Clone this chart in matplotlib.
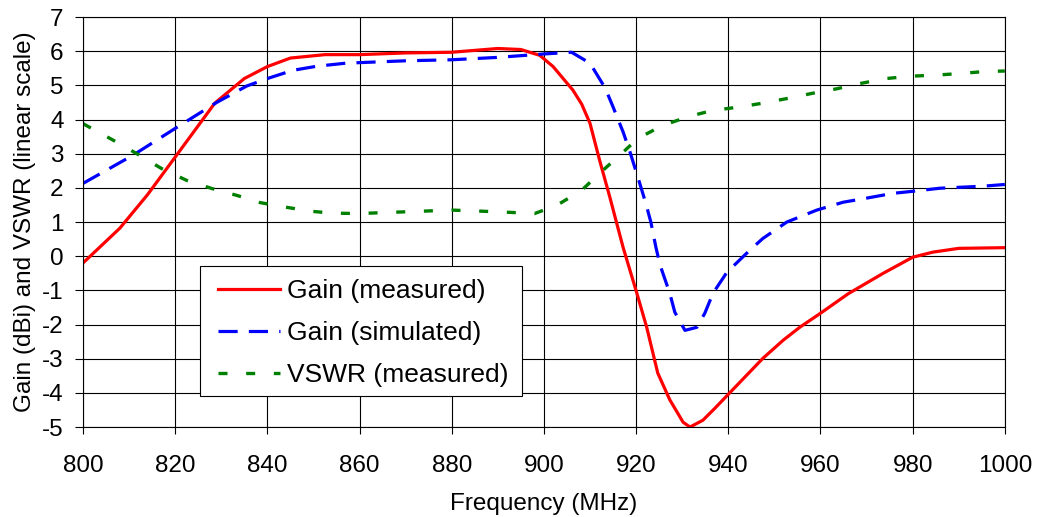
import numpy as np
import matplotlib
matplotlib.use("Agg")
import matplotlib.pyplot as plt
from matplotlib.patches import Rectangle

plt.rcParams['font.family'] = ['Liberation Sans', 'DejaVu Sans']
plt.rcParams['axes.unicode_minus'] = False

# measured gain (dBi)
gain_meas_f = [800, 808, 814, 820, 828.6, 835, 840, 845, 852.5, 860, 870, 880, 890, 895, 899.1,
               902, 906.3, 908.2, 910, 912.1, 914.3, 916, 917.2, 920.2, 922.3, 924.7, 927.3,
               930.2, 931.7, 934.5, 937.1, 940.3, 947.5, 951.9, 955.5, 960, 966, 973.6, 980,
               984.4, 990, 1000]
gain_meas = [-0.2, 0.82, 1.8, 2.9, 4.48, 5.2, 5.55, 5.8, 5.9, 5.9, 5.95, 5.97, 6.08, 6.05, 5.88,
             5.55, 4.86, 4.45, 3.89, 2.8, 1.73, 0.86, 0.25, -1.1, -2.08, -3.42, -4.2,
             -4.86, -5.0, -4.8, -4.45, -4.0, -2.99, -2.46, -2.08, -1.67, -1.1, -0.5, -0.03,
             0.12, 0.23, 0.25]

# simulated gain (dBi)
gain_sim_f = [800, 810.9, 820, 829, 835.5, 840, 845.5, 850.7, 857, 870, 880, 890, 900, 906,
              910, 913.3, 915, 917.2, 918.7, 920.8, 922.1, 923.2, 924.3, 925.2, 927.3, 928.4,
              930.6, 933.2, 934.9, 936.7, 939.7, 944.7, 947.5, 952.7, 959.2, 964.9, 970, 975.7,
              980, 985.9, 995.3, 1000]
gain_sim = [2.13, 2.96, 3.74, 4.5, 4.98, 5.2, 5.44, 5.56, 5.65, 5.72, 5.75, 5.82, 5.92, 5.97,
            5.65, 4.92, 4.37, 3.63, 3.04, 2.13, 1.55, 1.0, 0.26, -0.26, -1.08, -1.64,
            -2.17, -2.08, -1.67, -1.08, -0.47, 0.18, 0.52, 1.0, 1.35, 1.58, 1.7, 1.84,
            1.9, 1.99, 2.05, 2.1]

# measured VSWR
vswr_f = [800, 806.5, 811.7, 817, 822.5, 828, 833.4, 838.4, 843.8, 849.2, 854, 860, 870, 880,
          890, 898, 902.8, 908.2, 912.1, 916.5, 920.4, 925.8, 931.7, 936.7, 942, 947.5, 952.9,
          958.3, 963.5, 968.8, 974.2, 979.6, 985, 990.5, 996, 1000]
vswr = [3.88, 3.4, 3.0, 2.57, 2.22, 1.98, 1.78, 1.57, 1.44, 1.32, 1.26, 1.25, 1.3, 1.35,
        1.3, 1.25, 1.49, 1.93, 2.43, 2.96, 3.45, 3.83, 4.1, 4.27, 4.36, 4.48, 4.62,
        4.77, 4.9, 5.06, 5.2, 5.27, 5.3, 5.35, 5.41, 5.42]

fig = plt.figure(figsize=(10.37, 5.17), dpi=100)
ax = fig.add_axes([0.080, 0.174, 0.889, 0.793])

ax.plot(gain_meas_f, gain_meas, color='#ff0000', lw=2.3, label='Gain (measured)')
ax.plot(gain_sim_f, gain_sim, color='#0000ff', lw=2.3, linestyle=(0, (6, 3.5)),
        label='Gain (simulated)')
ax.plot(vswr_f, vswr, color='#008000', lw=2.4, linestyle=(0, (2.7, 5.6)),
        label='VSWR (measured)')

ax.set_xlim(800, 1000)
ax.set_ylim(-5, 7)
ax.set_xticks(np.arange(800, 1001, 20))
ax.set_yticks(np.arange(-5, 8, 1))
ax.grid(True, color='black', lw=0.8)
ax.set_axisbelow(True)
for s in ax.spines.values():
    s.set_linewidth(0.8)
ax.tick_params(direction='out', width=0.8, labelsize=17.5)
ax.tick_params(axis='x', length=5, pad=15)
ax.tick_params(axis='y', length=5.5, pad=8.5)
ax.set_xlabel('Frequency (MHz)', fontsize=17.5, labelpad=12)
ax.set_ylabel('Gain (dBi) and VSWR (linear scale)', fontsize=17.5, labelpad=4)

# legend frame drawn separately so the padding matches the original box
ax.add_patch(Rectangle((0.127, 0.0756), 0.349, 0.317, transform=ax.transAxes,
                       facecolor='white', edgecolor='black', lw=0.8, zorder=4.5))
leg = ax.legend(loc='upper left', bbox_to_anchor=(0.146, 0.361), borderaxespad=0,
                borderpad=0, fontsize=19, frameon=False,
                handlelength=2.35, handletextpad=0.27, labelspacing=0.68)
leg.set_zorder(5)

fig.savefig('out.png', dpi=100)
